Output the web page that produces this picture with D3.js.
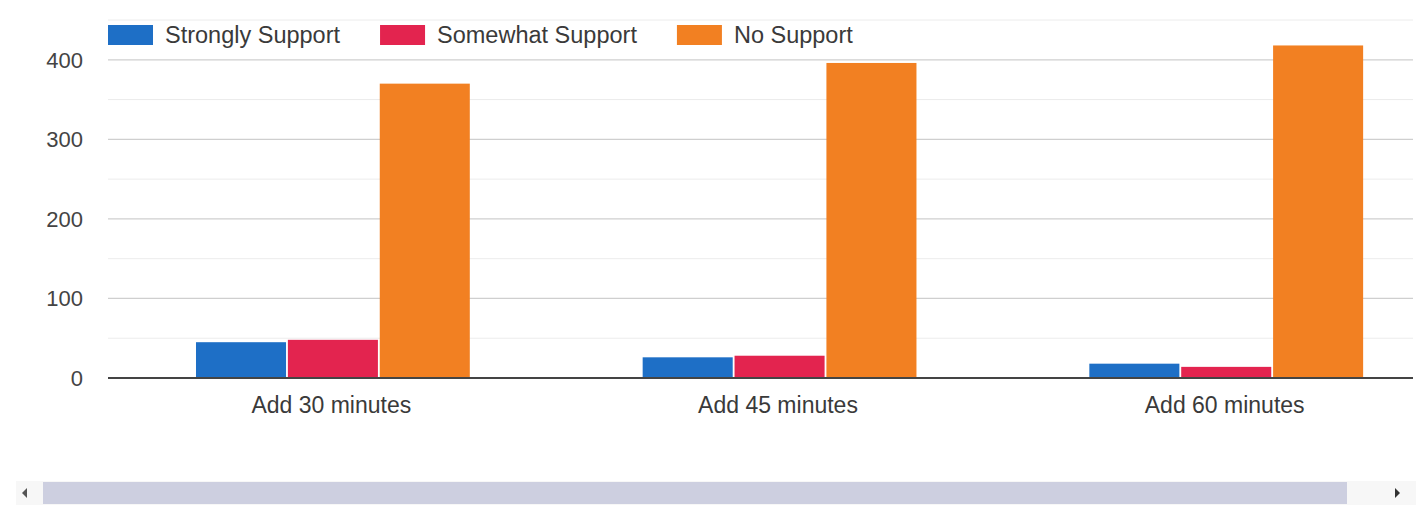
<!DOCTYPE html>
<html>
<head>
<meta charset="utf-8">
<script src="https://cdn.jsdelivr.net/npm/d3@7"></script>
<style>
  html, body { margin: 0; padding: 0; background: #fff; }
  text { font-family: "Liberation Sans", Arial, sans-serif; }
</style>
</head>
<body>
<svg id="chart" width="1426" height="508"></svg>
<script>
var categories = ['Add 30 minutes', 'Add 45 minutes', 'Add 60 minutes'];
var series = ['Strongly Support', 'Somewhat Support', 'No Support'];
var colors = ['#1e6fc6', '#e3244f', '#f28022'];
var values = [
  [45, 48, 370],
  [26, 28, 396],
  [18, 14, 418]
];
var major_ticks = [0, 100, 200, 300, 400];
var minor_ticks = [50, 150, 250, 350, 450];

var svg = d3.select('#chart');

var left = 108, right_clip = 1413;
var x = d3.scaleBand().domain(categories).range([left, 1448]).padding(0);
var bw = x.bandwidth();
var x_sub = d3.scaleBand().domain(series)
    .range([bw * 0.197, bw * 0.81])
    .paddingInner(0.02);
var y = d3.scaleLinear().domain([0, 450]).range([378, 20]);

svg.append('clipPath').attr('id', 'plot-clip')
  .append('rect')
    .attr('x', left).attr('y', 0)
    .attr('width', right_clip - left).attr('height', 400);

// gridlines
var grid = svg.append('g').attr('clip-path', 'url(#plot-clip)');
grid.selectAll('line.minor')
    .data(minor_ticks)
    .enter()
    .append('line')
    .attr('class', 'minor')
    .attr('x1', left).attr('x2', right_clip)
    .attr('y1', function(d) { return y(d); })
    .attr('y2', function(d) { return y(d); })
    .attr('stroke', '#ececec')
    .attr('stroke-width', 1);

grid.selectAll('line.major')
    .data(major_ticks.slice(1))
    .enter()
    .append('line')
    .attr('class', 'major')
    .attr('x1', left).attr('x2', right_clip)
    .attr('y1', function(d) { return y(d); })
    .attr('y2', function(d) { return y(d); })
    .attr('stroke', '#cfcfcf')
    .attr('stroke-width', 1.2);

// y tick labels
svg.selectAll('text.ytick')
    .data(major_ticks)
    .enter()
    .append('text')
    .attr('class', 'ytick')
    .attr('x', 83)
    .attr('y', function(d) { return y(d); })
    .attr('dy', '0.36em')
    .attr('text-anchor', 'end')
    .attr('font-size', 22)
    .attr('fill', '#444')
    .text(function(d) { return d; });

// bars
var groups = svg.append('g').attr('clip-path', 'url(#plot-clip)')
    .selectAll('g.group')
    .data(categories)
    .enter()
    .append('g')
    .attr('class', 'group')
    .attr('transform', function(d) { return 'translate(' + x(d) + ',0)'; });

groups.selectAll('rect')
    .data(function(d, i) {
        return series.map(function(s, j) { return {s: s, v: values[i][j], c: colors[j]}; });
    })
    .enter()
    .append('rect')
    .attr('x', function(d) { return x_sub(d.s); })
    .attr('width', x_sub.bandwidth())
    .attr('y', function(d) { return y(d.v); })
    .attr('height', function(d) { return y(0) - y(d.v); })
    .attr('fill', function(d) { return d.c; });

// baseline
svg.append('line')
    .attr('x1', left).attr('x2', right_clip)
    .attr('y1', y(0)).attr('y2', y(0))
    .attr('stroke', '#444')
    .attr('stroke-width', 1.8);

// x labels
svg.selectAll('text.xlabel')
    .data(categories)
    .enter()
    .append('text')
    .attr('class', 'xlabel')
    .attr('x', function(d) { return x(d) + bw / 2; })
    .attr('y', 413)
    .attr('text-anchor', 'middle')
    .attr('font-size', 23)
    .attr('fill', '#3a3a3a')
    .text(function(d) { return d; });

// legend
var lx = 108;
series.forEach(function(s, i) {
    svg.append('rect')
        .attr('x', lx).attr('y', 25)
        .attr('width', 45).attr('height', 20)
        .attr('fill', colors[i]);
    var t = svg.append('text')
        .attr('x', lx + 57).attr('y', 43)
        .attr('font-size', 23.5)
        .attr('fill', '#3a3a3a')
        .text(s);
    lx = lx + 57 + t.node().getComputedTextLength() + 40;
});

// scrollbar
var sb = svg.append('g');
sb.append('rect')
    .attr('x', 16).attr('y', 481).attr('width', 1400).attr('height', 24)
    .attr('fill', '#f7f7f7');
sb.append('rect')
    .attr('x', 43).attr('y', 482).attr('width', 1304).attr('height', 22)
    .attr('fill', '#cdcfe0');
sb.append('path')
    .attr('d', 'M 27 488 L 22 493 L 27 498 Z')
    .attr('fill', '#555');
sb.append('path')
    .attr('d', 'M 1395 488 L 1400 493 L 1395 498 Z')
    .attr('fill', '#333');
</script>
</body>
</html>
